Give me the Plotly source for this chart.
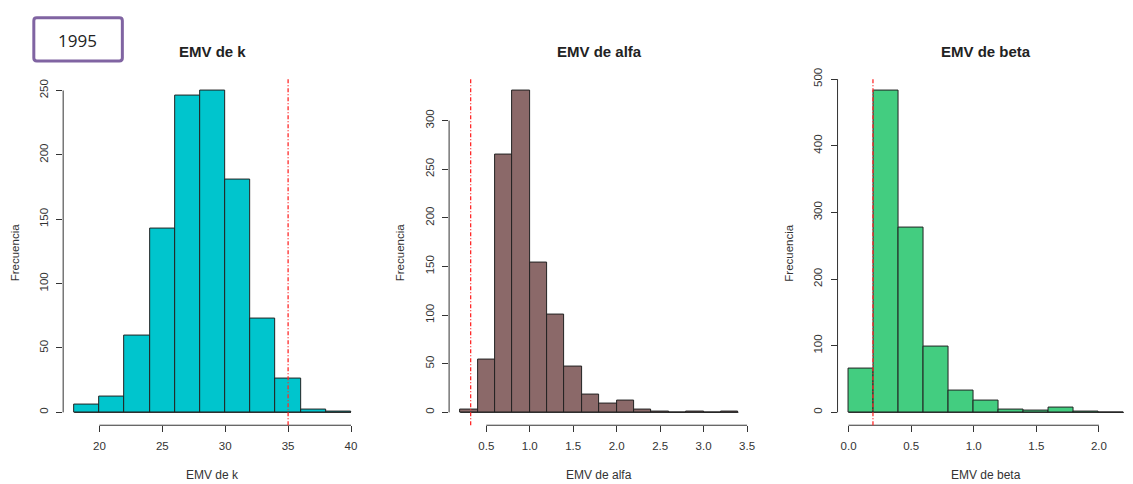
import plotly.graph_objects as go

# Histogram bins (left edge of first bin + bin width) and counts per parameter
k_start, k_width = 18.0, 2.0
k_counts = [6, 12, 60, 143, 246, 250, 181, 73, 26, 2, 1]
k_ref = 35.0
k_xticks = [20, 25, 30, 35, 40]
k_xticktext = ["20", "25", "30", "35", "40"]
k_yticks = [0, 50, 100, 150, 200, 250]

alfa_start, alfa_width = 0.2, 0.2
alfa_counts = [3, 54, 265, 331, 154, 101, 47, 18, 9, 12, 3, 1, 0, 1, 0, 1]
alfa_ref = 0.32
alfa_xticks = [0.5, 1.0, 1.5, 2.0, 2.5, 3.0, 3.5]
alfa_xticktext = ["0.5", "1.0", "1.5", "2.0", "2.5", "3.0", "3.5"]
alfa_yticks = [0, 50, 100, 150, 200, 250, 300]

beta_start, beta_width = 0.0, 0.2
beta_counts = [66, 483, 278, 99, 33, 18, 4, 3, 7, 1, 0]
beta_ref = 0.195
beta_xticks = [0.0, 0.5, 1.0, 1.5, 2.0]
beta_xticktext = ["0.0", "0.5", "1.0", "1.5", "2.0"]
beta_yticks = [0, 100, 200, 300, 400, 500]

titles = ["EMV de k", "EMV de alfa", "EMV de beta"]
colors = ["#00C5CD", "#8B6969", "#43CD80"]
year_label = "1995"

W, H = 1133, 484
# plot regions in pixels: (left, right); the third one runs past the page edge
regions = [(63.5, 364.0), (451.5, 753.5), (842.0, 1141.0)]
top_px, bottom_px = 69.0, 424.0

panels = [
    (k_start, k_width, k_counts, k_ref, k_xticks, k_xticktext, k_yticks),
    (alfa_start, alfa_width, alfa_counts, alfa_ref, alfa_xticks, alfa_xticktext, alfa_yticks),
    (beta_start, beta_width, beta_counts, beta_ref, beta_xticks, beta_xticktext, beta_yticks),
]

FONT = "Liberation Sans, Arial, sans-serif"
TXT = "#333333"

fig = go.Figure()
shapes = []
annotations = []


def label(text, x_px, y_px, size, color=TXT, angle=0, family=FONT):
    return dict(text=text, xref="paper", yref="paper",
                x=x_px / W, y=1 - y_px / H, xanchor="center", yanchor="middle",
                showarrow=False, textangle=angle,
                font=dict(family=family, size=size, color=color))


for i, (start, width, counts, ref, xt, xtt, yt) in enumerate(panels):
    n = i + 1
    xa = "x" if n == 1 else f"x{n}"
    ya = "y" if n == 1 else f"y{n}"
    edges = [start + width * j for j in range(len(counts) + 1)]
    centers = [start + width * (j + 0.5) for j in range(len(counts))]

    fig.add_trace(go.Bar(
        x=centers, y=counts, width=[width] * len(counts),
        marker=dict(color=colors[i], line=dict(color="#222222", width=1)),
        xaxis=xa, yaxis=ya, showlegend=False, hoverinfo="x+y",
    ))

    # R-style 4% padding around the data range
    x0, x1 = edges[0], edges[-1]
    pad = 0.04 * (x1 - x0)
    rx0, rx1 = x0 - pad, x1 + pad
    ymax = max(counts)
    ry0, ry1 = -0.04 * ymax, 1.04 * ymax

    left, right = regions[i]
    if right > W:
        rx1 = rx0 + (rx1 - rx0) * (W - left) / (right - left)
        right = W
    dom_x = [left / W, right / W]
    dom_y = [1 - bottom_px / H, 1 - top_px / H]

    axis_common = dict(showgrid=False, zeroline=False, showline=False,
                       ticks="outside", ticklen=6, tickwidth=1, tickcolor=TXT,
                       tickfont=dict(family=FONT, size=11.5, color=TXT))
    fig.update_layout(**{
        ("xaxis" if n == 1 else f"xaxis{n}"): dict(
            domain=dom_x, range=[rx0, rx1], anchor=ya,
            tickvals=xt, ticktext=xtt, ticklabelstandoff=4, **axis_common),
        ("yaxis" if n == 1 else f"yaxis{n}"): dict(
            domain=dom_y, range=[ry0, ry1], anchor=xa,
            tickvals=yt, ticktext=[str(v) for v in yt], tickangle=-90,
            ticklabelstandoff=4, **axis_common),
    })

    # axis lines spanning only the tick range
    shapes.append(dict(type="line", xref=xa, yref=f"{ya} domain",
                       x0=xt[0], x1=xt[-1], y0=0, y1=0,
                       line=dict(color=TXT, width=1)))
    shapes.append(dict(type="line", xref=f"{xa} domain", yref=ya,
                       x0=0, x1=0, y0=yt[0], y1=yt[-1],
                       line=dict(color=TXT, width=1)))
    # bar baseline (empty bins show as a flat line)
    shapes.append(dict(type="line", xref=xa, yref=ya,
                       x0=edges[0], x1=edges[-1], y0=0, y1=0,
                       line=dict(color="#222222", width=1)))
    # reference value
    shapes.append(dict(type="line", xref=xa, yref=f"{ya} domain",
                       x0=ref, x1=ref, y0=0, y1=1,
                       line=dict(color="#FF2A2A", width=1.3, dash="4px,2px,1px,2px")))

    cx = (regions[i][0] + regions[i][1]) / 2
    annotations.append(label(f"<b>{titles[i]}</b>", cx, 42, 15, color="#222222"))
    annotations.append(label(titles[i], cx, 475, 12))
    annotations.append(label("Frecuencia", regions[i][0] - 49, 248, 11.5, angle=-90))

# year box with slightly rounded corners (paper coordinates)
bx0, bx1, by0, by1, r = 34, 123, 8, 52, 3
fx = lambda p: p / W
fy = lambda p: 1 - p / H
box_path = (
    f"M {fx(bx0 + r)},{fy(by0)} L {fx(bx1 - r)},{fy(by0)} "
    f"Q {fx(bx1)},{fy(by0)} {fx(bx1)},{fy(by0 + r)} L {fx(bx1)},{fy(by1 - r)} "
    f"Q {fx(bx1)},{fy(by1)} {fx(bx1 - r)},{fy(by1)} L {fx(bx0 + r)},{fy(by1)} "
    f"Q {fx(bx0)},{fy(by1)} {fx(bx0)},{fy(by1 - r)} L {fx(bx0)},{fy(by0 + r)} "
    f"Q {fx(bx0)},{fy(by0)} {fx(bx0 + r)},{fy(by0)} Z"
)
shapes.append(dict(type="path", xref="paper", yref="paper", path=box_path,
                   line=dict(color="#8064A2", width=3), fillcolor="white"))
annotations.append(label(year_label, 78, 31, 17, color="#222222",
                         family="Open Sans, sans-serif"))

fig.update_layout(
    width=W, height=H, margin=dict(l=0, r=0, t=0, b=0),
    paper_bgcolor="white", plot_bgcolor="white",
    bargap=0, shapes=shapes, annotations=annotations,
)

fig.write_html("out.html")
